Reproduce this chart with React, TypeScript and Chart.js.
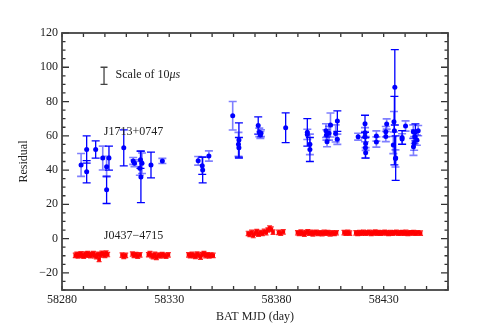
import React, { useEffect, useRef } from "react";
import { Chart, registerables } from "chart.js";
Chart.register(...registerables);

const X_MIN = 58280;
const X_MAX = 58460;
const Y_MIN = -30;
const Y_MAX = 120;
const X_LABEL_TICKS = [58280, 58330, 58380, 58430];
const FONT = "'Liberation Serif', 'DejaVu Serif', serif";

// J1713+0747 — observations with solid error bars
const blueDarkX = [58291.5, 58291.5, 58295.7, 58300.8, 58301.9, 58308.8, 58316.8, 58316.6, 58321.5, 58345.4, 58345.6, 58362.5, 58362.5, 58371.5, 58384.3, 58394.4, 58395.6, 58408.4, 58421.3, 58421.5, 58435.2, 58435.0, 58435.6, 58438.6, 58444.8];
const blueDarkY = [52, 39, 52, 28.5, 47, 53, 36, 46, 43, 42.5, 40, 57.5, 53, 66, 64.7, 62, 52, 68.6, 67, 53, 88.3, 63, 47, 59, 62];
const blueDarkErr = [8, 6.5, 5, 8, 7, 10.5, 15, 5, 7.5, 5, 7.5, 10, 6, 5, 8.7, 8, 7, 6, 5, 6, 22, 20, 13, 4, 5];

// J1713+0747 — observations with faint error bars
const blueLightX = [58288.9, 58299.0, 58300.8, 58313.2, 58313.8, 58316.3, 58317.3, 58326.8, 58343.5, 58348.5, 58359.6, 58362.3, 58372.0, 58372.5, 58372.8, 58394.4, 58395.6, 58403.1, 58403.3, 58403.6, 58405.2, 58404.5, 58408.4, 58407.6, 58418.1, 58421.3, 58421.3, 58421.6, 58421.6, 58426.6, 58426.6, 58431.4, 58431.0, 58431.0, 58434.8, 58434.5, 58435.5, 58438.6, 58440.2, 58443.8, 58444.5, 58444.2, 58443.9, 58446.1, 58445.5];
const blueLightY = [43, 47, 42, 45.3, 44, 41, 44, 45.3, 45.4, 48.2, 71.7, 55, 62, 60.5, 61.5, 60.8, 55, 63, 60.5, 56.6, 66.3, 61.5, 58, 61.4, 59.5, 61.8, 59.5, 55.5, 50.1, 59.9, 56.4, 66.9, 62.4, 59.6, 68.2, 54.6, 46.8, 58.2, 65.7, 62.4, 59.5, 55.6, 53.6, 63, 57.5];
const blueLightErr = [6.7, 7, 6, 2, 2, 4, 6, 1.5, 2.5, 3, 8.3, 7, 2.5, 2, 2, 3, 6, 4, 3, 3, 7, 4, 3, 5, 2, 3, 3, 4, 3, 3, 3, 3, 3, 3, 6, 5, 5, 3, 3, 4, 4, 4, 5, 3, 3];

// J0437-4715
const redX = [
  58286.2, 58286.9, 58287.5, 58288.2, 58288.8, 58289.5, 58290.1, 58290.8, 58291.4, 58292.0, 58292.7, 58293.3,
  58294.0, 58294.6, 58295.3, 58296.0, 58296.6, 58297.3, 58298.0, 58298.6, 58299.3, 58300.0, 58300.6, 58301.3,
  58308.0, 58308.8, 58309.7,
  58312.8, 58313.6, 58314.5, 58315.3, 58316.4,
  58320.3, 58321.0, 58321.8, 58322.5, 58323.3, 58324.0, 58324.9, 58325.8, 58326.7, 58327.6, 58328.5, 58329.6,
  58339.0, 58339.8, 58340.6, 58341.4, 58342.2, 58343.0, 58343.8, 58344.6, 58345.4, 58346.2, 58347.0, 58347.8, 58348.6, 58349.5, 58350.5,
  58366.8, 58367.6, 58368.4, 58369.2, 58370.0, 58370.8, 58371.6, 58372.5, 58373.4, 58374.3, 58375.2, 58376.0, 58376.8, 58377.6, 58378.4, 58381.0, 58382.0, 58383.2,
  58389.8, 58390.6, 58391.4, 58392.2, 58393.0, 58393.8, 58394.6, 58395.4, 58396.2, 58397.0, 58397.8, 58398.6, 58399.5, 58400.4, 58401.3, 58402.2, 58403.1, 58404.0, 58405.0, 58406.0, 58407.0, 58408.0,
  58411.5, 58412.4, 58413.3, 58414.2,
  58417.0, 58417.9, 58418.8, 58419.7, 58420.6, 58421.5, 58422.4, 58423.3, 58424.2, 58425.1, 58426.0, 58426.9, 58427.8, 58428.7, 58429.6, 58430.5, 58431.4,
  58432.3, 58433.2, 58434.1, 58435.0, 58435.9, 58436.8, 58437.7, 58438.6, 58439.5, 58440.4, 58441.3, 58442.2, 58443.1, 58444.0, 58445.0, 58446.0, 58447.2
];
const redY = [
  -9.8, -9.2, -10.1, -9.5, -8.9, -9.7, -10.3, -9.1, -9.6, -8.7, -9.4, -10.0,
  -9.3, -8.8, -9.9, -10.6, -9.2, -12.1, -9.5, -8.6, -9.0, -9.8, -8.4, -9.3,
  -9.6, -10.4, -9.8,
  -9.0, -9.8, -9.3, -10.2, -9.5,
  -9.4, -8.8, -9.9, -10.5, -9.2, -11.0, -9.6, -10.1, -9.3, -9.8, -10.2, -9.5,
  -9.5, -10.0, -9.2, -9.8, -10.4, -9.0, -9.6, -10.8, -9.3, -8.7, -9.9, -9.4, -10.1, -9.6, -9.8,
  3.0, 2.4, 3.6, 1.8, 3.2, 4.1, 2.6, 3.5, 3.0, 4.2, 3.4, 5.0, 6.2, 5.5, 3.8, 3.6, 3.2, 3.9,
  3.4, 3.0, 3.8, 3.2, 2.6, 3.5, 4.0, 3.1, 3.6, 2.8, 3.3, 3.7, 3.0, 3.4, 2.9, 3.6, 3.2, 3.5, 2.8, 3.3, 3.0, 3.4,
  3.5, 3.1, 3.6, 3.2,
  3.3, 3.0, 3.5, 3.2, 3.7, 3.1, 3.4, 3.6, 3.0, 3.3, 3.8, 3.2, 3.5, 3.1, 3.4, 3.6, 3.3,
  3.0, 3.5, 3.2, 3.4, 3.7, 3.1, 3.3, 3.5, 3.2, 3.6, 3.0, 3.4, 3.3, 3.5, 3.1, 3.4, 3.2
];
const RED_ERR = 1.3;

// annotations (data coordinates)
const SCALE_BAR = { x: 58299.6, y: 95, half: 5 };
const SCALE_TEXT = { x: 58305, y: 95.5, text: "Scale of 10", unit: "\u03bcs" };
const LABEL_1713 = { x: 58299.5, y: 62.4, text: "J1713+0747" };
const LABEL_0437 = { x: 58299.5, y: 1.5, text: "J0437\u22124715" };

const toPts = (xs: number[], ys: number[]) => xs.map((x, i) => ({ x, y: ys[i] }));

const errorBarPlugin = {
  id: "errorBars",
  beforeDatasetsDraw(chart: any) {
    const ctx = chart.ctx;
    const ys = chart.scales.y;
    ctx.save();
    ctx.beginPath();
    ctx.rect(chart.chartArea.left, chart.chartArea.top, chart.chartArea.right - chart.chartArea.left, chart.chartArea.bottom - chart.chartArea.top);
    ctx.clip();
    chart.data.datasets.forEach((ds: any, i: number) => {
      if (!ds.errors) return;
      const meta = chart.getDatasetMeta(i);
      ctx.strokeStyle = ds.errorColor;
      ctx.lineWidth = ds.errorWidth;
      meta.data.forEach((pt: any, j: number) => {
        const e = Array.isArray(ds.errors) ? ds.errors[j] : ds.errors;
        const v = ds.data[j].y;
        const top = ys.getPixelForValue(v + e);
        const bot = ys.getPixelForValue(v - e);
        const cx = pt.x;
        const c = ds.capHalf;
        ctx.beginPath();
        ctx.moveTo(cx, top);
        ctx.lineTo(cx, bot);
        ctx.moveTo(cx - c, top);
        ctx.lineTo(cx + c, top);
        ctx.moveTo(cx - c, bot);
        ctx.lineTo(cx + c, bot);
        ctx.stroke();
      });
    });
    ctx.restore();
  },
};

const framePlugin = {
  id: "frame",
  afterDraw(chart: any) {
    const ctx = chart.ctx;
    const { left, right, top, bottom } = chart.chartArea;
    const xs = chart.scales.x;
    const ys = chart.scales.y;
    ctx.save();
    ctx.strokeStyle = "#333";
    ctx.lineWidth = 1.3;
    ctx.beginPath();
    xs.ticks.forEach((t: any) => {
      const px = xs.getPixelForValue(t.value);
      ctx.moveTo(px, bottom);
      ctx.lineTo(px, bottom - 4);
      ctx.moveTo(px, top);
      ctx.lineTo(px, top + 4);
    });
    ys.ticks.forEach((t: any) => {
      const py = ys.getPixelForValue(t.value);
      const len = t.value % 20 === 0 ? 7 : 3.5;
      ctx.moveTo(left, py);
      ctx.lineTo(left + len, py);
      ctx.moveTo(right, py);
      ctx.lineTo(right - len, py);
    });
    ctx.stroke();
    ctx.strokeStyle = "#444";
    ctx.lineWidth = 1.8;
    ctx.strokeRect(left, top, right - left, bottom - top);

    // scale bar
    const bx = xs.getPixelForValue(SCALE_BAR.x);
    const bt = ys.getPixelForValue(SCALE_BAR.y + SCALE_BAR.half);
    const bb = ys.getPixelForValue(SCALE_BAR.y - SCALE_BAR.half);
    ctx.strokeStyle = "#444";
    ctx.lineWidth = 1.3;
    ctx.beginPath();
    ctx.moveTo(bx, bt);
    ctx.lineTo(bx, bb);
    ctx.moveTo(bx - 3.5, bt);
    ctx.lineTo(bx + 3.5, bt);
    ctx.moveTo(bx - 3.5, bb);
    ctx.lineTo(bx + 3.5, bb);
    ctx.stroke();

    ctx.fillStyle = "#222";
    ctx.textBaseline = "middle";
    ctx.textAlign = "left";
    ctx.font = `12px ${FONT}`;
    const tx = xs.getPixelForValue(SCALE_TEXT.x);
    const ty = ys.getPixelForValue(SCALE_TEXT.y);
    ctx.fillText(SCALE_TEXT.text, tx, ty);
    const w = ctx.measureText(SCALE_TEXT.text).width;
    ctx.font = `italic 12px ${FONT}`;
    ctx.fillText(SCALE_TEXT.unit, tx + w, ty);
    ctx.font = `12px ${FONT}`;
    [LABEL_1713, LABEL_0437].forEach((l) => {
      ctx.fillText(l.text, xs.getPixelForValue(l.x), ys.getPixelForValue(l.y));
    });
    ctx.restore();
  },
};

export default function App() {
  const ref = useRef<HTMLCanvasElement | null>(null);
  useEffect(() => {
    if (!ref.current) return;
    const chart = new Chart(ref.current, {
      type: "scatter",
      data: {
        datasets: [
          {
            label: "J0437-4715",
            data: toPts(redX, redY),
            errors: RED_ERR,
            errorColor: "rgba(255,0,0,0.85)",
            errorWidth: 1.2,
            capHalf: 2.5,
            pointStyle: "rect",
            pointRadius: 2.6,
            backgroundColor: "#ff0000",
            borderColor: "#ff0000",
            borderWidth: 0,
          } as any,
          {
            label: "J1713+0747 b",
            data: toPts(blueLightX, blueLightY),
            errors: blueLightErr,
            errorColor: "rgba(0,0,255,0.5)",
            errorWidth: 1.6,
            capHalf: 4,
            pointRadius: 2.5,
            backgroundColor: "#0000ff",
            borderColor: "#0000ff",
            borderWidth: 0,
          } as any,
          {
            label: "J1713+0747",
            data: toPts(blueDarkX, blueDarkY),
            errors: blueDarkErr,
            errorColor: "rgba(0,0,255,1)",
            errorWidth: 1.3,
            capHalf: 4,
            pointRadius: 2.5,
            backgroundColor: "#0000ff",
            borderColor: "#0000ff",
            borderWidth: 0,
          } as any,
        ],
      },
      options: {
        animation: false,
        responsive: false,
        devicePixelRatio: 1,
        layout: { padding: { left: 0, top: 33, right: 50, bottom: 0 } },
        plugins: { legend: { display: false }, tooltip: { enabled: false } },
        scales: {
          x: {
            type: "linear",
            min: X_MIN,
            max: X_MAX,
            grid: { display: false, drawTicks: false },
            border: { display: false },
            afterFit: (s: any) => {
              s.height = 42;
            },
            ticks: {
              stepSize: 10,
              autoSkip: false,
              maxRotation: 0,
              minRotation: 0,
              padding: 3,
              color: "#222",
              font: { family: FONT, size: 12 },
              callback: (v: any) => (X_LABEL_TICKS.includes(Number(v)) ? String(v) : ""),
            },
            title: {
              display: true,
              text: "BAT MJD (day)",
              color: "#222",
              font: { family: FONT, size: 12 },
              padding: { top: 0, bottom: 8 },
            },
          },
          y: {
            type: "linear",
            min: Y_MIN,
            max: Y_MAX,
            grid: { display: false, drawTicks: false },
            border: { display: false },
            afterFit: (s: any) => {
              s.width = 62;
            },
            ticks: {
              stepSize: 5,
              autoSkip: false,
              padding: 4,
              color: "#222",
              font: { family: FONT, size: 12 },
              callback: (v: any) => {
                const n = Number(v);
                if (n % 20 !== 0) return "";
                return n < 0 ? "\u2212" + Math.abs(n) : String(n);
              },
            },
            title: {
              display: true,
              text: "Residual",
              color: "#222",
              font: { family: FONT, size: 12 },
              padding: { top: 17, bottom: 0 },
            },
          },
        },
      },
      plugins: [errorBarPlugin, framePlugin],
    } as any);
    return () => chart.destroy();
  }, []);
  return (
    <div style={{ position: "absolute", left: 0, top: 0, width: 498, height: 332, background: "#fff" }}>
      <canvas ref={ref} width={498} height={332} />
    </div>
  );
}
